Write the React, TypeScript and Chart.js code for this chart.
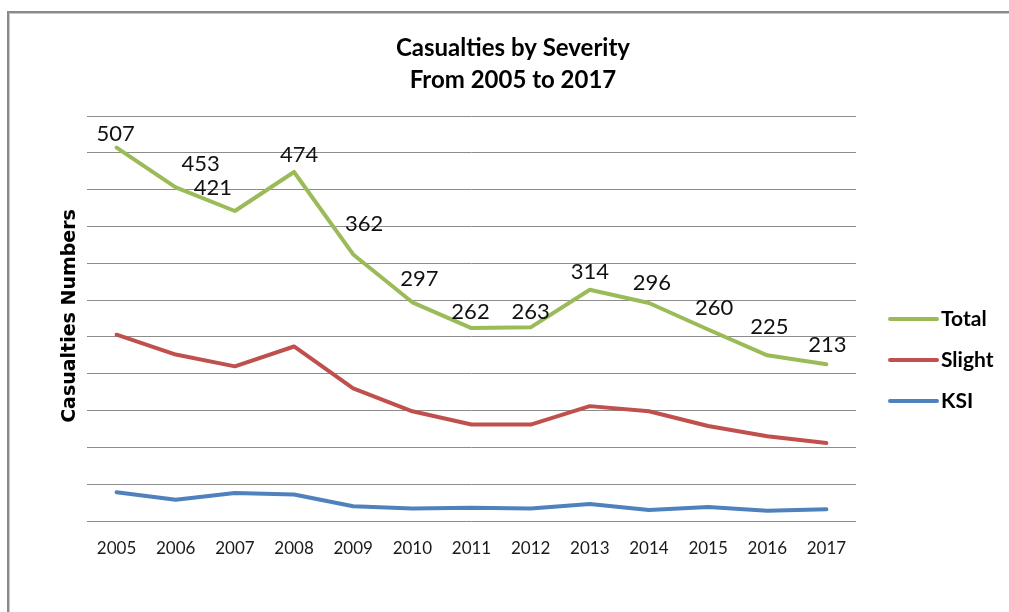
import React, { useEffect, useRef } from "react";
import { Chart, registerables } from "chart.js";

Chart.register(...registerables);

const YEARS = ["2005", "2006", "2007", "2008", "2009", "2010", "2011", "2012", "2013", "2014", "2015", "2016", "2017"];
const TOTAL = [507, 453, 421, 474, 362, 297, 262, 263, 314, 296, 260, 225, 213];
const SLIGHT = [253, 226, 210, 237, 180, 149, 131, 131, 156, 149, 129, 115, 106];
const KSI = [39, 29, 38, 36, 20, 17, 18, 17, 23, 15, 19, 14, 16];
const SERIES_NAMES = ["Total", "Slight", "KSI"];
const TITLE_LINES = ["Casualties by Severity", "From 2005 to 2017"];
const Y_TITLE = "Casualties Numbers";

const COLORS = ["#9BBB59", "#C0504D", "#4F81BD"];
const FONT = "Lato, Calibri, 'Noto Sans', sans-serif";
// label nudges (style): dx, dy of label centre relative to its point
const LABEL_NUDGE: [number, number][] = [
  [-1, -14], [25, -24], [-22, -23], [5, -17], [11, -31], [7, -23], [-1, -16],
  [0, -15], [0, -18], [3, -20], [6, -22], [2, -28], [1, -19],
];

const decorPlugin = {
  id: "decor",
  beforeDraw(chart: any) {
    const { ctx, width, height } = chart;
    ctx.save();
    ctx.fillStyle = "#ffffff";
    ctx.fillRect(0, 0, width, height);
    ctx.fillStyle = "#8a8a8a";
    ctx.fillRect(7, 11, width - 7, 2);
    ctx.fillRect(7, 11, 2, height - 11);
    ctx.fillStyle = "#c8c8c8";
    ctx.fillRect(9, 13, width - 9, 1);
    ctx.fillRect(9, 13, 1, height - 13);
    ctx.restore();
  },
  afterDraw(chart: any) {
    const { ctx } = chart;
    ctx.save();
    // title
    ctx.fillStyle = "#000";
    ctx.font = `bold 24px ${FONT}`;
    ctx.textAlign = "center";
    ctx.textBaseline = "middle";
    TITLE_LINES.forEach((t, i) => ctx.fillText(t, 513, 48 + i * 32));
    // y title
    ctx.save();
    ctx.translate(70, 316);
    ctx.rotate(-Math.PI / 2);
    ctx.font = `bold 19px 'DejaVu Sans', Verdana, sans-serif`;
    ctx.fillText(Y_TITLE, 0, 0);
    ctx.restore();
    // legend
    const legendY = [319, 360, 401];
    chart.data.datasets.forEach((ds: any, i: number) => {
      const y = legendY[i];
      ctx.strokeStyle = ds.borderColor;
      ctx.lineWidth = 4;
      ctx.lineCap = "round";
      ctx.beginPath();
      ctx.moveTo(890, y);
      ctx.lineTo(937, y);
      ctx.stroke();
      ctx.fillStyle = "#000";
      ctx.font = `bold 21px ${FONT}`;
      ctx.textAlign = "left";
      ctx.textBaseline = "middle";
      ctx.fillText(ds.label, 941, y);
    });
    ctx.restore();
  },
  afterDatasetsDraw(chart: any) {
    const { ctx } = chart;
    const meta = chart.getDatasetMeta(0);
    const data = chart.data.datasets[0].data;
    ctx.save();
    ctx.fillStyle = "#111";
    ctx.font = `22px ${FONT}`;
    ctx.textAlign = "center";
    ctx.textBaseline = "middle";
    meta.data.forEach((pt: any, i: number) => {
      const [dx, dy] = LABEL_NUDGE[i] || [0, -18];
      ctx.fillText(String(data[i]), pt.x + dx, pt.y + dy);
    });
    ctx.restore();
  },
};

export default function App() {
  const ref = useRef<HTMLCanvasElement | null>(null);
  useEffect(() => {
    if (!ref.current) return;
    const chart = new Chart(ref.current, {
      type: "line",
      data: {
        labels: YEARS,
        datasets: [TOTAL, SLIGHT, KSI].map((d, i) => ({
          label: SERIES_NAMES[i],
          data: d,
          borderColor: COLORS[i],
          backgroundColor: COLORS[i],
          borderWidth: 4,
          pointRadius: 0,
          tension: 0,
          borderJoinStyle: "round" as const,
          borderCapStyle: "round" as const,
        })),
      },
      options: {
        responsive: false,
        animation: false,
        devicePixelRatio: 1,
        layout: { padding: { left: 87, right: 153, top: 116, bottom: 0 } },
        plugins: {
          legend: { display: false },
          title: { display: false },
          tooltip: { enabled: false },
        },
        scales: {
          x: {
            offset: true,
            grid: { display: false, drawTicks: false },
            border: { display: false },
            ticks: { color: "#1a1a1a", font: { family: FONT, size: 17 }, padding: 17, maxRotation: 0 },
            afterFit: (s: any) => { s.height = 91; },
          },
          y: {
            min: 0,
            max: 550,
            ticks: { display: false, stepSize: 50 },
            grid: { color: "#8c8c8c", lineWidth: 1, drawTicks: false },
            border: { display: false },
            afterFit: (s: any) => { s.width = 0; },
          },
        },
      },
      plugins: [decorPlugin],
    });
    return () => chart.destroy();
  }, []);
  return (
    <div style={{ position: "absolute", left: 0, top: 0, width: 1009, height: 612 }}>
      <canvas ref={ref} width={1009} height={612} style={{ width: 1009, height: 612, display: "block" }} />
    </div>
  );
}
